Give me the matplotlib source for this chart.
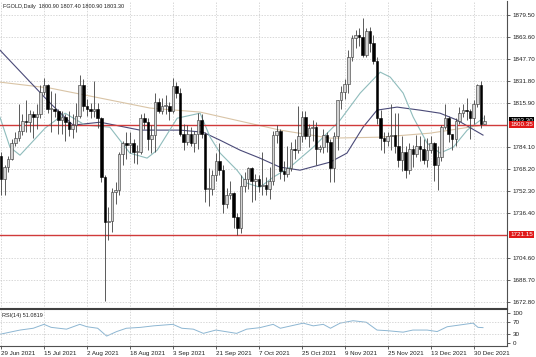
import matplotlib.pyplot as plt
import numpy as np

# daily candles, 29 Jun 2021 .. 4 Jan 2022
opens = [1778, 1761, 1770, 1776, 1787, 1791, 1796, 1803, 1802, 1808, 1806, 1808, 1824, 1829, 1812, 1812,
         1810, 1804, 1806, 1802, 1797, 1800, 1807, 1829, 1814, 1812, 1810, 1812, 1805, 1763, 1730, 1731,
         1752, 1753, 1779, 1787, 1786, 1787, 1781, 1781, 1805, 1802, 1790, 1793, 1817, 1810, 1814, 1814,
         1810, 1828, 1823, 1794, 1788, 1794, 1787, 1794, 1804, 1794, 1754, 1754, 1764, 1774, 1768, 1743,
         1750, 1751, 1734, 1726, 1756, 1761, 1769, 1760, 1761, 1756, 1757, 1754, 1760, 1793, 1796, 1767,
         1765, 1769, 1783, 1782, 1792, 1806, 1792, 1798, 1799, 1783, 1784, 1793, 1788, 1769, 1792, 1818,
         1824, 1830, 1849, 1863, 1865, 1864, 1851, 1868, 1859, 1846, 1805, 1791, 1789, 1792, 1793, 1785,
         1775, 1781, 1768, 1783, 1779, 1785, 1783, 1775, 1782, 1787, 1771, 1777, 1799, 1805, 1794, 1790,
         1803, 1809, 1811, 1810, 1805, 1815, 1829, 1800.9]
highs = [1781, 1771, 1778, 1790, 1795, 1815, 1808, 1818, 1811, 1810, 1815, 1829, 1834, 1830, 1825, 1823,
         1812, 1810, 1808, 1810, 1808, 1816, 1836, 1833, 1819, 1816, 1832, 1816, 1806, 1764, 1741, 1755,
         1759, 1781, 1789, 1795, 1795, 1790, 1786, 1808, 1809, 1805, 1800, 1823, 1820, 1820, 1822, 1817,
         1834, 1831, 1827, 1801, 1800, 1799, 1796, 1809, 1808, 1795, 1769, 1768, 1780, 1787, 1771, 1755,
         1760, 1752, 1737, 1764, 1766, 1770, 1770, 1765, 1764, 1781, 1763, 1770, 1796, 1800, 1797, 1774,
         1785, 1788, 1790, 1814, 1810, 1810, 1801, 1804, 1802, 1786, 1797, 1795, 1790, 1795, 1818, 1828,
         1833, 1854, 1865, 1869, 1870, 1877, 1870, 1871, 1865, 1849, 1811, 1795, 1795, 1815, 1809, 1809,
         1792, 1785, 1787, 1786, 1793, 1792, 1790, 1791, 1792, 1788, 1785, 1800, 1815, 1807, 1794, 1805,
         1813, 1815, 1820, 1812, 1818, 1830, 1832, 1807.4]
lows = [1750, 1750, 1766, 1775, 1785, 1789, 1793, 1795, 1795, 1791, 1797, 1805, 1822, 1809, 1795, 1806,
        1794, 1794, 1789, 1792, 1791, 1795, 1805, 1810, 1807, 1805, 1806, 1798, 1759, 1673, 1717, 1723,
        1743, 1750, 1771, 1776, 1780, 1773, 1772, 1779, 1797, 1782, 1780, 1781, 1809, 1808, 1808, 1804,
        1809, 1820, 1792, 1782, 1786, 1785, 1781, 1783, 1791, 1745, 1742, 1750, 1760, 1764, 1737, 1740,
        1747, 1726, 1721, 1722, 1752, 1754, 1745, 1746, 1752, 1750, 1750, 1747, 1757, 1787, 1761, 1760,
        1763, 1767, 1776, 1780, 1788, 1790, 1784, 1789, 1771, 1781, 1780, 1781, 1759, 1759, 1782, 1812,
        1819, 1823, 1846, 1856, 1857, 1849, 1849, 1853, 1844, 1801, 1782, 1780, 1785, 1782, 1780, 1770,
        1767, 1762, 1765, 1770, 1777, 1774, 1772, 1770, 1780, 1760, 1753, 1774, 1797, 1788, 1782, 1785,
        1801, 1806, 1804, 1790, 1801, 1813, 1798, 1800.9]
closes = [1761, 1770, 1776, 1787, 1791, 1796, 1803, 1802, 1808, 1806, 1808, 1824, 1829, 1812, 1812, 1810,
          1804, 1806, 1802, 1797, 1800, 1807, 1829, 1814, 1812, 1810, 1812, 1805, 1763, 1730, 1731, 1752,
          1753, 1779, 1787, 1786, 1787, 1781, 1781, 1805, 1802, 1790, 1793, 1817, 1810, 1814, 1814, 1810,
          1828, 1823, 1794, 1788, 1794, 1787, 1794, 1804, 1794, 1754, 1754, 1764, 1774, 1768, 1743, 1750,
          1751, 1734, 1726, 1756, 1761, 1769, 1760, 1761, 1756, 1757, 1754, 1760, 1793, 1796, 1767, 1765,
          1769, 1783, 1782, 1792, 1806, 1792, 1798, 1799, 1783, 1784, 1793, 1788, 1769, 1792, 1818, 1824,
          1830, 1849, 1863, 1865, 1864, 1851, 1868, 1859, 1846, 1805, 1791, 1789, 1792, 1793, 1785, 1775,
          1781, 1768, 1783, 1779, 1785, 1783, 1775, 1782, 1787, 1771, 1777, 1799, 1805, 1794, 1790, 1803,
          1809, 1811, 1810, 1805, 1815, 1829, 1801, 1803.3]

date_pos = [0, 12, 24, 36, 48, 60, 72, 84, 96, 108, 120, 132]
date_labels = ['29 Jun 2021', '15 Jul 2021', '2 Aug 2021', '18 Aug 2021', '3 Sep 2021', '21 Sep 2021',
               '7 Oct 2021', '25 Oct 2021', '9 Nov 2021', '25 Nov 2021', '13 Dec 2021', '30 Dec 2021']
price_ticks = [1879.50, 1863.60, 1847.70, 1831.80, 1815.90, 1784.10, 1768.20, 1752.30, 1736.40,
               1704.60, 1688.70, 1672.80]
levels = [1800.35, 1721.15]

# moving averages (bar position, price)
fast_x = [-0.3, 2.5, 5.3, 12.3, 17.9, 23.5, 30.4, 36.0, 40.8, 43.6, 49.2, 55.6, 58.4, 61.2, 65.9, 68.7,
          72.3, 76.0, 80.7, 87.2, 94.7, 100.3, 105.9, 108.7, 112.3, 115.1, 119.0, 122.6, 126.3, 130.2, 134.6]
fast_y = [1805.9, 1784.2, 1778.4, 1797.9, 1808.7, 1800.1, 1798.6, 1779.9, 1776.3, 1782.0, 1805.1, 1808.7,
          1791.4, 1779.9, 1767.6, 1758.2, 1755.3, 1762.5, 1769.8, 1784.2, 1803.7, 1823.2, 1838.3, 1834.7,
          1823.2, 1805.9, 1787.1, 1779.9, 1784.2, 1796.5, 1805.1]
mid_x = [-0.3, 13.7, 20.1, 27.7, 38.8, 50.0, 56.4, 61.2, 66.8, 72.3, 77.9, 83.5, 91.9, 96.6, 101.1, 105.0,
         110.6, 117.0, 122.6, 127.4, 134.6]
mid_y = [1854.2, 1816.0, 1800.1, 1802.2, 1796.5, 1796.5, 1795.0, 1789.2, 1782.0, 1776.3, 1769.8, 1767.6,
         1773.4, 1779.9, 1798.6, 1810.9, 1813.1, 1810.9, 1808.7, 1803.7, 1792.9]
slow_x = [-0.3, 13.7, 27.7, 41.6, 55.6, 77.9, 91.9, 105.9, 119.8, 134.6]
slow_y = [1831.1, 1826.8, 1819.6, 1812.4, 1809.5, 1796.5, 1790.7, 1791.4, 1794.3, 1800.1]

rsi_x = [-0.3, 5.3, 9, 12, 14, 18.3, 22, 24, 27, 29.5, 32.3, 35, 39, 42.6, 48, 50.5, 53.7, 56.5, 60, 65.8,
         68.6, 72.3, 76, 78, 84.4, 87.2, 90, 92, 94.7, 98.3, 102, 105, 107.8, 112.3, 115, 119, 121.8, 124.6,
         128.2, 131.8, 133.2, 134.6]
rsi_y = [29, 43, 49, 62, 52, 46, 62, 54, 49, 23, 38, 49, 52, 57, 62, 49, 46, 32, 43, 32, 46, 51, 62, 49, 66,
         57, 62, 49, 66, 74, 69, 43, 41, 36, 43, 43, 38, 54, 60, 66, 52, 51.08]

plt.rcParams['font.family'] = ['Liberation Sans', 'DejaVu Sans']
fs = 4.5

fig = plt.figure(figsize=(5.36, 3.57), dpi=100)
ax = fig.add_axes([0, 1 - 309 / 357, 507 / 536, 308 / 357])
ax2 = fig.add_axes([0, 1 - 346 / 357, 507 / 536, 37 / 357], sharex=ax)

o = np.array(opens)
h = np.array(highs)
l = np.array(lows)
c = np.array(closes)
x = np.arange(len(o))
up = c >= o

# candles
ax.vlines(x, l, h, color='#404040', lw=0.6, zorder=3)
body_lo = np.minimum(o, c)
body_h = np.maximum(np.abs(c - o), 0.5)
ax.bar(x[up], body_h[up], bottom=body_lo[up], width=0.72, color='#d4d4d4', edgecolor='#303030',
       linewidth=0.4, zorder=4)
ax.bar(x[~up], body_h[~up], bottom=body_lo[~up], width=0.72, color='black', edgecolor='black',
       linewidth=0.4, zorder=4)

# moving averages
ax.plot(slow_x, slow_y, color='#d9c4a6', lw=0.8, zorder=2)
ax.plot(mid_x, mid_y, color='#4a4a78', lw=0.8, zorder=2)
ax.plot(fast_x, fast_y, color='#8fbcbc', lw=0.8, zorder=2)

for lv in levels:
    ax.axhline(lv, color='#d03a3a', lw=1.0, zorder=2.5)

ax.set_xlim(-0.28, 141.3)
ax.set_ylim(1667.5, 1889.6)
ax.set_yticks(price_ticks)
ax.set_yticklabels(['%.2f' % p for p in price_ticks])
ax.yaxis.tick_right()
ax.tick_params(axis='y', labelsize=fs, length=2, width=0.5, pad=2, colors='#202020')
ax.tick_params(axis='x', length=0, labelbottom=False)
ax.grid(True, color='#c8c8c8', lw=0.5, linestyle=(0, (2, 2)))
ax.set_xticks(date_pos)

for s in ['left', 'top', 'bottom']:
    ax.spines[s].set_visible(False)
ax.spines['right'].set_color('#505050')
ax.spines['right'].set_linewidth(0.8)

ax.text(0.006, 0.99, 'FGOLD,Daily  1800.90 1807.40 1800.90 1803.30', transform=ax.transAxes,
        fontsize=4.0, va='top', ha='left', color='#202020')

# price labels on the right
box_kw = dict(boxstyle='square,pad=0.15', lw=0)
ax.text(1.006, 1803.30, '1803.30', transform=ax.get_yaxis_transform(), fontsize=fs, color='white',
        va='center', ha='left', bbox=dict(fc='black', **box_kw), zorder=6, clip_on=False)
for lv in levels:
    ax.text(1.006, lv, '%.2f' % lv, transform=ax.get_yaxis_transform(), fontsize=fs, color='white',
            va='center', ha='left', bbox=dict(fc='#e01818', **box_kw), zorder=6, clip_on=False)

# RSI panel
ax2.plot(rsi_x, rsi_y, color='#8db6d2', lw=0.7)
ax2.set_ylim(-10, 113)
ax2.set_yticks([0, 30, 70, 100])
ax2.yaxis.tick_right()
ax2.tick_params(axis='y', labelsize=fs, length=2, width=0.5, pad=2, colors='#202020')
ax2.set_xticks(date_pos)
ax2.set_xticklabels(date_labels, ha='left')
ax2.tick_params(axis='x', labelsize=fs, length=2, width=0.5, pad=1.5, colors='#202020')
ax2.grid(True, axis='x', color='#c8c8c8', lw=0.5, linestyle=(0, (2, 2)))
for lv in [30, 70]:
    ax2.axhline(lv, color='#c8c8c8', lw=0.5, linestyle=(0, (2, 2)))
ax2.spines['left'].set_visible(False)
ax2.spines['top'].set_color('#404040')
ax2.spines['top'].set_linewidth(1.5)
for s in ['right', 'bottom']:
    ax2.spines[s].set_color('#505050')
    ax2.spines[s].set_linewidth(0.8)
ax2.text(0.004, 0.9, 'RSI(14) 51.0819', transform=ax2.transAxes, fontsize=4.0, va='top', ha='left',
         color='#202020')

fig.savefig('out.png', dpi=100)
